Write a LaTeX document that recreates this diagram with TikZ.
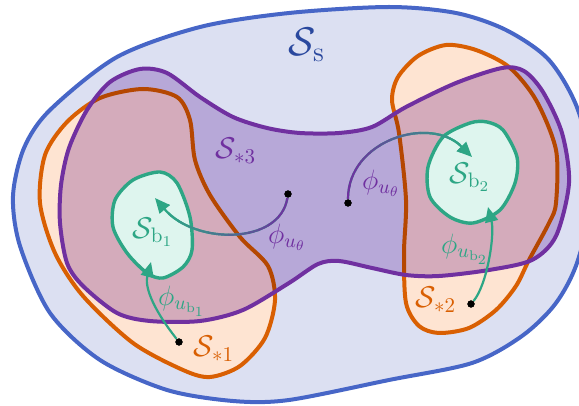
\RequirePackage{fix-cm}
\documentclass[tikz,border=0pt]{standalone}
\usepackage{amsmath}
\usetikzlibrary{arrows.meta}

\definecolor{sBlue}{RGB}{71,102,199}
\definecolor{sBlueFill}{RGB}{220,224,242}
\definecolor{sBlueText}{RGB}{42,72,158}
\definecolor{sOrange}{RGB}{217,95,2}
\definecolor{sOrangeFill}{RGB}{254,228,210}
\definecolor{sPurple}{RGB}{112,48,160}
\definecolor{sPurpleFill}{RGB}{213,192,228}
\definecolor{sGreen}{RGB}{45,166,133}
\definecolor{sGreenFill}{RGB}{222,245,238}

% outline of the third region, used for fill and line
\newcommand{\regionThree}{plot[smooth cycle] coordinates {(140,69) (167,73) (200,97) (233,117) (267,128) (300,133) (339,133) (372,127) (406,107) (456,83) (502,68) (524,71) (543,92) (562,133) (569,183) (556,236) (532,260) (489,270) (439,276) (406,275) (372,268) (339,261) (318,264) (289,283) (243,310) (200,321) (150,321) (117,313) (83,286) (67,263) (60,223) (61,185) (69,148) (87,110) (110,82)}}

\begin{document}
\begin{tikzpicture}[
    x=0.5pt, y=-0.5pt,
    % styles for regions, labels and maps
    region/.style={line width=2pt, line join=round},
    basin/.style={line width=1.7pt, line join=round, draw=sGreen, fill=sGreenFill},
    setlabel/.style={font=\fontsize{15}{18}\selectfont, inner sep=0pt},
    maplabel/.style={font=\fontsize{14}{17}\selectfont, inner sep=0pt},
    dot/.style={circle, fill=black, inner sep=0pt, minimum size=3.6pt},
    maparrow/.style={line width=1.1pt, -{Triangle[length=7.5pt,width=6.5pt]}}
]
    \useasboundingbox (0,0) rectangle (579,406);
    \clip (0,0) rectangle (579,406);

    % safe set
    \draw[region, draw=sBlue, fill=sBlueFill] plot[smooth cycle] coordinates {(289,13) (389,7) (456,13) (506,30) (549,60) (578,110) (594,185) (578,260) (556,303) (522,336) (472,363) (389,380) (289,400) (233,401) (167,390) (100,360) (50,313) (20,246) (13,196) (24,148) (50,110) (117,57) (200,27)};

    % the two target sets
    \draw[region, draw=sOrange, fill=sOrangeFill] plot[smooth cycle] coordinates {(100,98) (143,89) (177,97) (190,120) (195,160) (210,195) (240,237) (268,266) (275,300) (265,338) (240,366) (210,377) (183,370) (133,343) (83,296) (55,253) (40,203) (45,155) (67,122)};
    \draw[region, draw=sOrange, fill=sOrangeFill] plot[smooth cycle] coordinates {(446,45) (476,50) (509,67) (536,100) (556,150) (556,203) (549,223) (529,260) (516,286) (496,310) (469,328) (439,333) (419,326) (406,303) (404,253) (406,200) (399,133) (392,100) (398,77) (418,56)};

    % the joining set
    \begin{scope}[blend mode=multiply]
        \fill[sPurpleFill] \regionThree;
    \end{scope}
    \draw[region, draw=sPurple] \regionThree;

    % the two basins
    \draw[basin] plot[smooth cycle] coordinates {(160,172) (177,183) (190,217) (192,250) (183,267) (163,278) (147,273) (127,253) (113,227) (115,200) (133,180)};
    \draw[basin] plot[smooth cycle] coordinates {(470,123) (487,122) (503,130) (517,157) (515,183) (500,210) (473,223) (450,217) (430,197) (428,167) (443,137)};

    % set labels
    \node[setlabel, text=sBlueText, font=\fontsize{20}{24}\selectfont] (safe) at (307,45) {$\mathcal{S}_{\mathrm{s}}$};
    \node[setlabel, text=sPurple] (join) at (236,151) {$\mathcal{S}_{*3}$};
    \node[setlabel, text=sOrange] (targetA) at (214,349) {$\mathcal{S}_{*1}$};
    \node[setlabel, text=sOrange] (targetB) at (436,300) {$\mathcal{S}_{*2}$};
    \node[setlabel, text=sGreen] (basinA) at (153,232) {$\mathcal{S}_{\mathrm{b}_1}$};
    \node[setlabel, text=sGreen] (basinB) at (470,177) {$\mathcal{S}_{\mathrm{b}_2}$};

    % start points
    \node[dot] (dotL) at (288,194) {};
    \node[dot] (dotR) at (348,203) {};
    \node[dot] (dotA) at (179,342) {};
    \node[dot] (dotB) at (471,304) {};
    \coordinate (tipL) at (155,198);
    \coordinate (tipR) at (472,157);
    \coordinate (tipA) at (151,262);
    \coordinate (tipB) at (488,207);

    % maps into the basins
    \draw[maparrow, sGreen] (dotA) .. controls (150,305) and (145,285) .. (tipA);
    \draw[maparrow, sGreen] (dotB) .. controls (487,285) and (495,235) .. (tipB);
    \node[maplabel, text=sGreen] (mapA) at (182,301) {$\phi_{u_{\mathrm{b}_1}}$};
    \node[maplabel, text=sGreen] (mapB) at (465,249) {$\phi_{u_{\mathrm{b}_2}}$};

    % maps across the joining set, purple fading to green
    \draw[maparrow, sGreen] (dotL) .. controls (280,245) and (195,245) .. (tipL);
    \foreach \i in {0,...,12} {
        \pgfmathsetmacro{\xa}{168+10*\i}
        \pgfmathtruncatemacro{\p}{min(100,(10*\i+5)/1.2)}
        \begin{scope}
            \clip (\xa,0) rectangle (\xa+10.5,406);
            \draw[maparrow, sPurple!\p!sGreen] (dotL) .. controls (280,245) and (195,245) .. (tipL);
        \end{scope}
    }
    \draw[maparrow, sGreen] (dotR) .. controls (348,140) and (430,115) .. (tipR);
    \foreach \i in {0,...,11} {
        \pgfmathsetmacro{\xa}{340+10*\i}
        \pgfmathtruncatemacro{\p}{max(0,min(100,100-(10*\i-5)/1.1))}
        \begin{scope}
            \clip (\xa,0) rectangle (\xa+10.5,406);
            \draw[maparrow, sPurple!\p!sGreen] (dotR) .. controls (348,140) and (430,115) .. (tipR);
        \end{scope}
    }
    \node[maplabel, text=sPurple] (mapL) at (287,237) {$\phi_{u_\theta}$};
    \node[maplabel, text=sPurple] (mapR) at (381,183) {$\phi_{u_\theta}$};

    % dots on top
    \foreach \d in {dotL, dotR, dotA, dotB}
        \fill (\d) circle (1.8pt);
\end{tikzpicture}
\end{document}
